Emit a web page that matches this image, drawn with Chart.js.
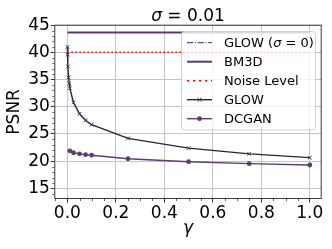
<!DOCTYPE html>
<html>
<head>
<meta charset="utf-8">
<script src="https://cdn.jsdelivr.net/npm/chart.js@4"></script>
<style>
html,body{margin:0;padding:0;background:#fff;}
#wrap{width:332px;height:249px;}
</style>
</head>
<body>
<div id="wrap"><canvas id="c" width="332" height="249"></canvas></div>
<script>
// ---- data ----
const glowGamma = [0, 0.001, 0.0025, 0.005, 0.0075, 0.01, 0.025, 0.05, 0.075, 0.1, 0.25, 0.5, 0.75, 1.0];
const glowPSNR  = [41.0, 39.6, 37.4, 35.4, 34.3, 33.4, 30.8, 28.7, 27.5, 26.7, 24.2, 22.4, 21.35, 20.65];
const dcganGamma = [0.01, 0.025, 0.05, 0.075, 0.1, 0.25, 0.5, 0.75, 1.0];
const dcganPSNR  = [21.9, 21.55, 21.35, 21.2, 21.1, 20.45, 19.9, 19.55, 19.3];
const refGamma = [0, 1.0];
const bm3dPSNR = [43.65, 43.65];
const noisePSNR = [40.0, 40.0];
const glow0PSNR = [47.5, 47.5];
const xTicks = [0.0, 0.2, 0.4, 0.6, 0.8, 1.0];
const yTicks = [15, 20, 25, 30, 35, 40, 45];
const titleText = ["σ", " = 0.01"];
const xLabel = "γ";
const yLabel = "PSNR";

const pts = (xs, ys) => xs.map((x, i) => ({x: x, y: ys[i]}));

const FONT = "DejaVu Sans";
const cGlow = '#2e2140';
const cDcgan = '#5d3c70';
const cBm3d = '#5b3b6c';
const cGlow0 = '#2f2a5c';

const datasets = [
  {label: 'GLOW (σ = 0)', data: pts(refGamma, glow0PSNR), borderColor: cGlow0, borderWidth: 1,
   borderDash: [6.4, 1.6, 1, 1.6], pointRadius: 0, showLine: true, _marker: null},
  {label: 'BM3D', data: pts(refGamma, bm3dPSNR), borderColor: cBm3d, borderWidth: 2,
   pointRadius: 0, showLine: true, _marker: null},
  {label: 'Noise Level', data: pts(refGamma, noisePSNR), borderColor: '#ff0000', borderWidth: 1.5,
   borderDash: [1.5, 2.5], pointRadius: 0, showLine: true, _marker: null},
  {label: 'GLOW', data: pts(glowGamma, glowPSNR), borderColor: cGlow, borderWidth: 1.4,
   pointStyle: 'crossRot', pointRadius: 2.6, pointBorderColor: '#3f3556', pointBorderWidth: 1,
   pointBackgroundColor: '#bbb', showLine: true, _marker: 'x'},
  {label: 'DCGAN', data: pts(dcganGamma, dcganPSNR), borderColor: cDcgan, borderWidth: 1.4,
   pointStyle: 'circle', pointRadius: 2.4, pointBorderWidth: 0, pointBackgroundColor: cDcgan,
   showLine: true, _marker: 'o'}
];

function drawMixed(ctx, parts, x, y, size, align) {
  let widths = parts.map(p => { ctx.font = (p[1] ? 'italic ' : '') + size + 'px "' + FONT + '"'; return ctx.measureText(p[0]).width; });
  let total = widths.reduce((a, b) => a + b, 0);
  let cx = align === 'center' ? x - total / 2 : x;
  ctx.textAlign = 'left';
  parts.forEach((p, i) => {
    ctx.font = (p[1] ? 'italic ' : '') + size + 'px "' + FONT + '"';
    ctx.fillText(p[0], cx, y);
    cx += widths[i];
  });
}
function splitGreek(s) {
  const parts = [];
  for (const ch of s) {
    const it = /[\u0370-\u03FF]/.test(ch);
    if (parts.length && parts[parts.length - 1][1] === it) parts[parts.length - 1][0] += ch;
    else parts.push([ch, it]);
  }
  return parts;
}

const decor = {
  id: 'decor',
  afterDatasetsDraw(chart) {
    const ctx = chart.ctx, a = chart.chartArea;
    const xs = chart.scales.x, ys = chart.scales.y;
    ctx.save();
    ctx.strokeStyle = '#3a3a3a';
    ctx.lineWidth = 1;
    ctx.strokeRect(a.left + 0.5, a.top + 0.5, a.right - a.left - 1, a.bottom - a.top - 1);
    ctx.strokeStyle = '#000';
    ctx.lineWidth = 0.6;
    ctx.beginPath();
    for (let v = 14; v <= 45; v += 1) {
      if (v % 5 === 0) continue;
      const py = Math.round(ys.getPixelForValue(v)) + 0.5;
      if (py < a.top || py > a.bottom) continue;
      ctx.moveTo(a.left, py); ctx.lineTo(a.left - 2, py);
    }
    for (let k = -1; k <= 21; k++) {
      if (k % 4 === 0) continue;
      const v = k * 0.05;
      const px = Math.round(xs.getPixelForValue(v)) + 0.5;
      if (px < a.left || px > a.right) continue;
      ctx.moveTo(px, a.bottom); ctx.lineTo(px, a.bottom + 2);
    }
    ctx.stroke();
    ctx.restore();
  },
  afterDraw(chart) {
    const ctx = chart.ctx, a = chart.chartArea;
    ctx.save();
    ctx.fillStyle = '#000';
    ctx.textBaseline = 'alphabetic';
    drawMixed(ctx, [[titleText[0], true], [titleText[1], false]], (a.left + a.right) / 2, 20.8, 17, 'center');
    ctx.textBaseline = 'middle';
    drawMixed(ctx, splitGreek(xLabel), (a.left + a.right) / 2, 229, 17, 'center');
    ctx.save();
    ctx.translate(15, (a.top + a.bottom) / 2);
    ctx.rotate(-Math.PI / 2);
    ctx.font = '17px "' + FONT + '"';
    ctx.textAlign = 'center';
    ctx.textBaseline = 'middle';
    ctx.fillText(yLabel, 0, 0);
    ctx.restore();
    // legend
    const bx = 181.5, by = 31.5, bw = 134, bh = 98.5, r = 3;
    ctx.beginPath();
    ctx.moveTo(bx + r, by); ctx.lineTo(bx + bw - r, by); ctx.arcTo(bx + bw, by, bx + bw, by + r, r);
    ctx.lineTo(bx + bw, by + bh - r); ctx.arcTo(bx + bw, by + bh, bx + bw - r, by + bh, r);
    ctx.lineTo(bx + r, by + bh); ctx.arcTo(bx, by + bh, bx, by + bh - r, r);
    ctx.lineTo(bx, by + r); ctx.arcTo(bx, by, bx + r, by, r);
    ctx.closePath();
    ctx.fillStyle = 'rgba(255,255,255,0.8)';
    ctx.fill();
    ctx.strokeStyle = '#d0d0d0';
    ctx.lineWidth = 1;
    ctx.stroke();
    const rowY0 = 42.7, rowDy = 19.0;
    chart.data.datasets.forEach((d, i) => {
      const y = rowY0 + i * rowDy;
      ctx.save();
      ctx.strokeStyle = d.borderColor;
      ctx.lineWidth = d.borderWidth;
      ctx.setLineDash(d.borderDash ? d.borderDash.map(v => v * Math.max(1, d.borderWidth)) : []);
      ctx.beginPath();
      ctx.moveTo(187, y); ctx.lineTo(212, y);
      ctx.stroke();
      ctx.setLineDash([]);
      const mx = 199.5;
      if (d._marker === 'x') {
        ctx.strokeStyle = d.pointBorderColor; ctx.lineWidth = 1;
        const s = 1.9;
        ctx.beginPath();
        ctx.moveTo(mx - s, y - s); ctx.lineTo(mx + s, y + s);
        ctx.moveTo(mx - s, y + s); ctx.lineTo(mx + s, y - s);
        ctx.stroke();
      } else if (d._marker === 'o') {
        ctx.fillStyle = d.pointBackgroundColor;
        ctx.beginPath(); ctx.arc(mx, y, 2.4, 0, Math.PI * 2); ctx.fill();
      }
      ctx.restore();
      ctx.fillStyle = '#000';
      ctx.textBaseline = 'middle';
      drawMixed(ctx, splitGreek(d.label), 224, y + 0.5, 13, 'left');
    });
    ctx.restore();
  }
};

new Chart(document.getElementById('c'), {
  type: 'scatter',
  data: {datasets: datasets},
  plugins: [decor],
  options: {
    responsive: false,
    animation: false,
    devicePixelRatio: 1,
    layout: {padding: {left: 0, right: 10.3, top: 24.7, bottom: 0}},
    plugins: {legend: {display: false}, tooltip: {enabled: false}, title: {display: false}},
    elements: {line: {tension: 0}},
    scales: {
      x: {
        type: 'linear', min: -0.054, max: 1.049,
        afterBuildTicks: s => { s.ticks = xTicks.map(v => ({value: v})); },
        afterFit: s => { s.height = 50; },
        grid: {color: '#c4c4c4', lineWidth: 1, tickLength: 3.5, tickColor: '#000', tickWidth: 0.8},
        border: {display: false},
        ticks: {font: {family: FONT, size: 17}, color: '#000', padding: 1, maxRotation: 0, autoSkip: false,
                callback: v => v.toFixed(1)}
      },
      y: {
        type: 'linear', min: 13.05, max: 45.08,
        afterBuildTicks: s => { s.ticks = yTicks.map(v => ({value: v})); },
        afterFit: s => { s.width = 54.3; },
        grid: {color: '#c4c4c4', lineWidth: 1, tickLength: 3.5, tickColor: '#000', tickWidth: 0.8},
        border: {display: false},
        ticks: {font: {family: FONT, size: 17}, color: '#000', padding: 1, autoSkip: false,
                callback: v => String(v)}
      }
    }
  }
});
</script>
</body>
</html>
